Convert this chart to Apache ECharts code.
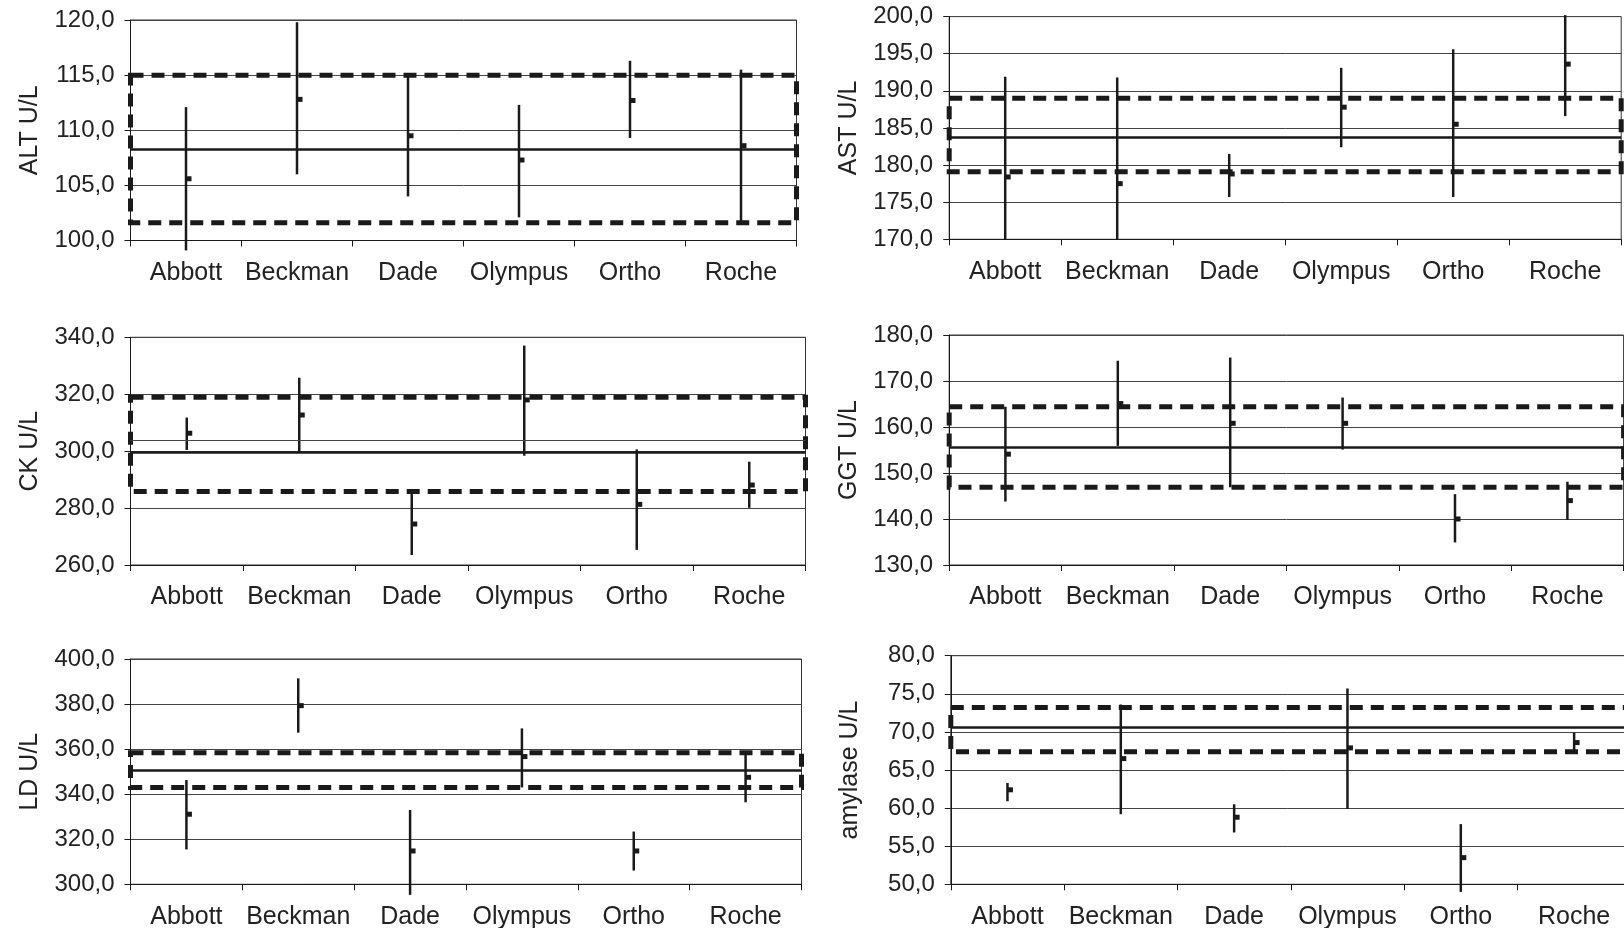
<!DOCTYPE html>
<html>
<head>
<meta charset="utf-8">
<script src="https://cdn.jsdelivr.net/npm/echarts@6/dist/echarts.min.js"></script>
<style>
html, body { margin: 0; padding: 0; background: #fff; }
#chart { width: 1624px; height: 928px; }
</style>
</head>
<body>
<div id="chart"></div>
<script>
// manufacturers on every x axis
var makers = ['Abbott', 'Beckman', 'Dade', 'Olympus', 'Ortho', 'Roche'];

// per panel: high, low, mean of each bar; ref = [target, upper limit, lower limit]
var altHigh = [112.1, 119.8, 114.9, 112.3, 116.3, 115.5];
var altLow  = [99.1, 106.0, 104.0, 102.1, 109.3, 101.7];
var altMean = [105.6, 112.8, 109.5, 107.3, 112.7, 108.6];
var altRef  = [108.3, 115.0, 101.6];

var astHigh = [191.9, 191.8, 181.5, 193.1, 195.6, 200.2];
var astLow  = [170.0, 170.0, 175.7, 182.4, 175.7, 186.6];
var astMean = [178.4, 177.5, 178.8, 187.8, 185.5, 193.6];
var astRef  = [183.8, 189.0, 179.1];

var ckHigh = [311.8, 325.8, 285.8, 337.1, 300.6, 296.3];
var ckLow  = [300.4, 299.6, 263.5, 298.4, 265.3, 280.1];
var ckMean = [306.3, 312.7, 274.4, 318.0, 281.3, 288.1];
var ckRef  = [299.6, 318.9, 285.8];
var ckExtra = 303.7;

var ggtHigh = [164.4, 174.4, 175.1, 166.4, 145.4, 148.1];
var ggtLow  = [143.8, 155.9, 146.9, 155.1, 134.9, 139.8];
var ggtMean = [154.1, 165.1, 160.8, 160.8, 140.0, 144.0];
var ggtRef  = [155.6, 164.4, 146.9];

var ldHigh = [346.3, 391.4, 333.0, 369.2, 323.4, 358.4];
var ldLow  = [315.5, 367.3, 295.3, 343.0, 306.1, 336.4];
var ldMean = [331.1, 379.3, 314.8, 356.7, 314.8, 347.5];
var ldRef  = [350.4, 358.4, 343.0];

var amyHigh = [63.3, 73.6, 60.5, 75.7, 57.9, 69.9];
var amyLow  = [60.9, 59.2, 56.8, 59.9, 49.0, 67.4];
var amyMean = [62.4, 66.5, 58.8, 67.9, 53.5, 68.6];
var amyRef  = [70.6, 73.2, 67.4];

var panels = [
  {name: 'ALT U/L', high: altHigh, low: altLow, mean: altMean, ref: altRef, min: 100, max: 120, step: 5, box: [130.5, 20, 666, 220.5]},
  {name: 'AST U/L', high: astHigh, low: astLow, mean: astMean, ref: astRef, min: 170, max: 200, step: 5, box: [949.2, 16.6, 672, 222.7]},
  {name: 'CK U/L', high: ckHigh, low: ckLow, mean: ckMean, ref: ckRef, extra: ckExtra, min: 260, max: 340, step: 20, box: [130.5, 337.3, 675, 227.7]},
  {name: 'GGT U/L', high: ggtHigh, low: ggtLow, mean: ggtMean, ref: ggtRef, min: 130, max: 180, step: 10, box: [949.2, 335, 674.4, 230]},
  {name: 'LD U/L', high: ldHigh, low: ldLow, mean: ldMean, ref: ldRef, min: 300, max: 400, step: 20, box: [130.5, 659, 671, 225.3]},
  {name: 'amylase U/L', high: amyHigh, low: amyLow, mean: amyMean, ref: amyRef, min: 50, max: 80, step: 5, box: [950.8, 655.7, 680, 228.6]}
];

var font = 'Liberation Sans, Arial, sans-serif';
var ink = '#1a1a1a';

// vertical high-low line with a small mean tick on its right
function renderBar(params, api) {
  var x = api.value(0);
  var top = api.coord([x, api.value(1)]);
  var bot = api.coord([x, api.value(2)]);
  var mid = api.coord([x, api.value(3)]);
  return {
    type: 'group',
    children: [
      {type: 'line', shape: {x1: top[0], y1: top[1], x2: bot[0], y2: bot[1]}, style: {stroke: ink, lineWidth: 2.5}},
      {type: 'rect', shape: {x: mid[0], y: mid[1] - 2.5, width: 5.5, height: 5}, style: {fill: ink}}
    ]
  };
}

var chartDom = document.getElementById('chart');
var myChart = echarts.init(chartDom, null, {renderer: 'canvas'});

var option = {
  backgroundColor: '#fff',
  animation: false,
  grid: panels.map(function (p) {
    return {
      left: p.box[0], top: p.box[1], width: p.box[2], height: p.box[3],
      show: true, borderColor: '#333', borderWidth: 1,
      containLabel: false, outerBoundsMode: 'none'
    };
  }),
  xAxis: panels.map(function (p, i) {
    return {
      type: 'category',
      gridIndex: i,
      data: makers,
      boundaryGap: true,
      axisLine: {lineStyle: {color: ink, width: 1}},
      axisTick: {show: true, length: 6, interval: 0, lineStyle: {color: ink}},
      axisLabel: {interval: 0, margin: 20, fontSize: 25, color: '#222', fontFamily: font},
      splitLine: {show: false}
    };
  }),
  yAxis: panels.map(function (p, i) {
    return {
      type: 'value',
      gridIndex: i,
      min: p.min,
      max: p.max,
      interval: p.step,
      name: p.name,
      nameLocation: 'middle',
      nameGap: 88,
      nameTextStyle: {fontSize: 25, color: '#222', fontFamily: font},
      axisLine: {show: true, lineStyle: {color: ink, width: 1}},
      axisTick: {show: true, length: 6, lineStyle: {color: ink}},
      axisLabel: {
        margin: 16, fontSize: 24, color: '#222', fontFamily: font,
        formatter: function (v) { return v.toFixed(1).replace('.', ','); }
      },
      splitLine: {show: true, lineStyle: {color: '#444', width: 1}}
    };
  }),
  series: panels.map(function (p, i) {
    var lines = [{yAxis: p.ref[0]}];
    if (p.extra != null) {
      lines.push({yAxis: p.extra, lineStyle: {width: 1, color: '#444', type: 'solid'}});
    }
    return {
      type: 'custom',
      xAxisIndex: i,
      yAxisIndex: i,
      renderItem: renderBar,
      encode: {x: 0, y: [1, 2, 3]},
      clip: false,
      data: makers.map(function (m, j) { return [j, p.high[j], p.low[j], p.mean[j]]; }),
      markArea: {
        silent: true,
        itemStyle: {color: 'rgba(0,0,0,0)', borderColor: ink, borderWidth: 5, borderType: [13, 8]},
        data: [[{yAxis: p.ref[1]}, {yAxis: p.ref[2]}]]
      },
      markLine: {
        silent: true,
        symbol: ['none', 'none'],
        label: {show: false},
        lineStyle: {color: ink, width: 2.5, type: 'solid'},
        data: lines
      }
    };
  })
};

window.addEventListener('resize', myChart.resize);
option && myChart.setOption(option);
</script>
</body>
</html>
